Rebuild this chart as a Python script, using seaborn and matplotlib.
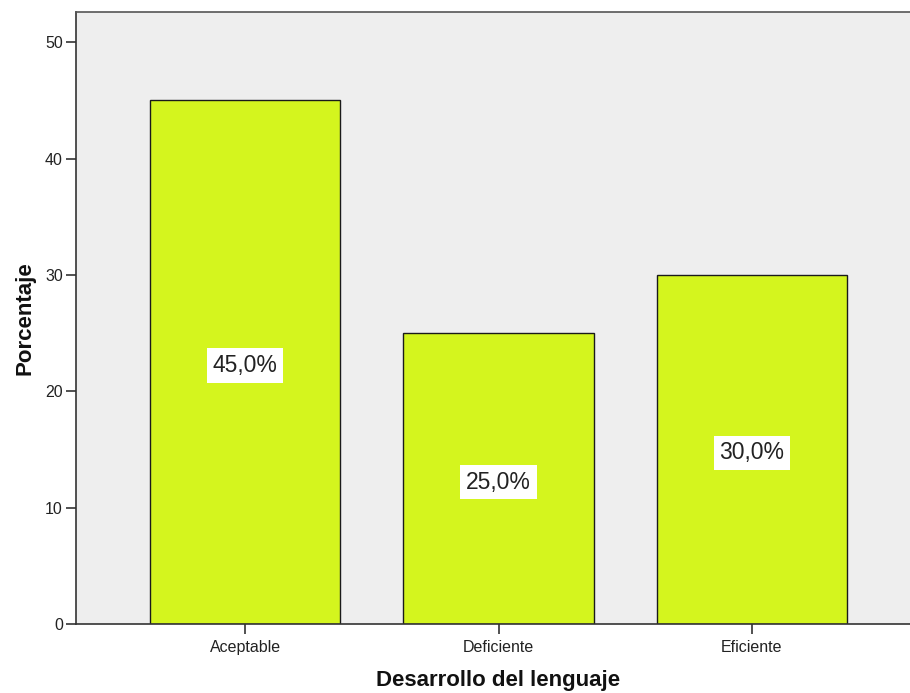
import matplotlib
matplotlib.use("Agg")
import matplotlib.pyplot as plt
import seaborn as sns
import pandas as pd

categories = ["Aceptable", "Deficiente", "Eficiente"]
values = [45.0, 25.0, 30.0]
bar_labels = ["45,0%", "25,0%", "30,0%"]
yticks = [0, 10, 20, 30, 40, 50]

sns.set_style("white")
plt.rcParams["font.family"] = ["Liberation Sans", "DejaVu Sans"]

df = pd.DataFrame({"cat": categories, "val": values})

fig = plt.figure(figsize=(9.10, 6.93), dpi=100)
ax = fig.add_axes([76 / 910, 69 / 693, (921 - 76) / 910, 612 / 693])
ax.set_facecolor("#EEEEEE")

sns.barplot(data=df, x="cat", y="val", color="#D4F51E", saturation=1,
            width=0.75, edgecolor="#1a1a1a", linewidth=1.0, ax=ax)

for i, (v, lab) in enumerate(zip(values, bar_labels)):
    ax.text(i, v / 2 - 0.3, lab, ha="center", va="center", fontsize=16.5, color="#222222",
            bbox=dict(boxstyle="square,pad=0.25", facecolor="white", edgecolor="none"))

ax.set_xlim(-0.667, 2.667)
ax.set_ylim(0, 52.6)
ax.set_yticks(yticks)
ax.set_yticklabels([str(t) for t in yticks], fontsize=11.5, color="#222222")
ax.set_xticks(range(len(categories)))
ax.set_xticklabels(categories, fontsize=11.5, color="#222222")
ax.tick_params(axis="both", direction="out", length=7.5, width=1.2, color="#333333", pad=2,
               bottom=True, left=True, top=False, right=False)
ax.tick_params(axis="x", pad=4)

for s in ["left", "bottom", "top", "right"]:
    ax.spines[s].set_visible(True)
    ax.spines[s].set_color("#333333")
    ax.spines[s].set_linewidth(1.2)
ax.spines["top"].set_color("#555555")

ax.set_xlabel("Desarrollo del lenguaje", fontsize=16, fontweight="bold", labelpad=11, color="#111111")
ax.set_ylabel("Porcentaje", fontsize=16, fontweight="bold", labelpad=7, color="#111111")

fig.savefig("out.png", dpi=100, facecolor="white")
